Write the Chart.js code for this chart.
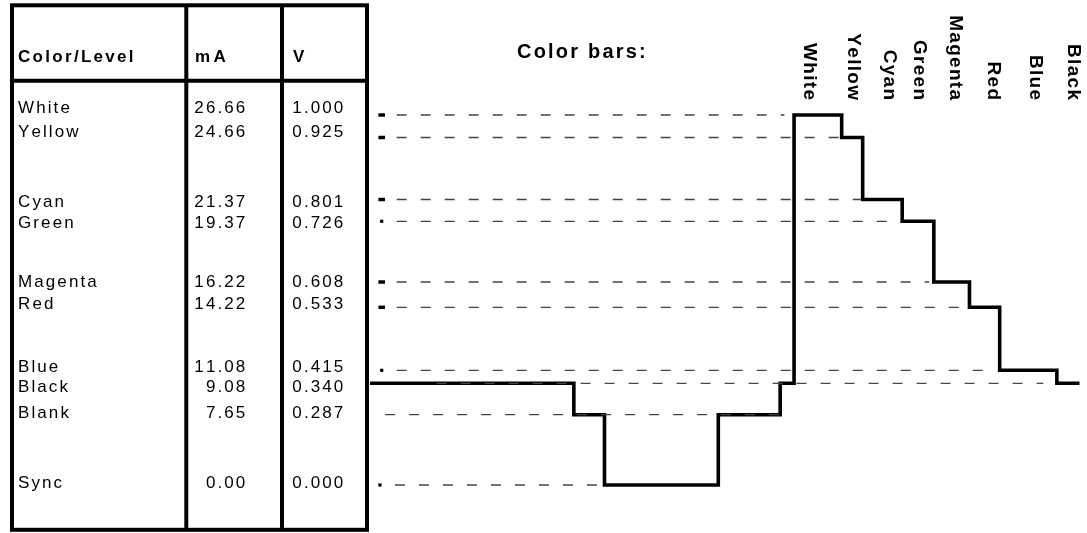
<!DOCTYPE html>
<html><head><meta charset="utf-8">
<script src="https://cdn.jsdelivr.net/npm/chart.js@4/dist/chart.umd.min.js"></script>
<style>html,body{margin:0;padding:0;background:#fff;overflow:hidden}#wrap{position:absolute;left:0;top:0;width:1087px;height:533px}</style>
</head><body><div id="wrap"><canvas id="c" width="1087" height="533"></canvas></div>
<script>
// ---- data ----
const levelNames = ['White','Yellow','Cyan','Green','Magenta','Red','Blue','Black','Blank','Sync'];
const levelMilliamps = ['26.66','24.66','21.37','19.37','16.22','14.22','11.08','9.08','7.65','0.00'];
const levelVolts = ['1.000','0.925','0.801','0.726','0.608','0.533','0.415','0.340','0.287','0.000'];
const barNames = ['White','Yellow','Cyan','Green','Magenta','Red','Blue','Black'];
// waveform: segment start time (% of the drawn line) and the level of each segment
const waveStart = [0, 28.73, 33.05, 49.09, 57.81, 59.77, 66.48, 69.44, 75.01, 79.47, 84.49, 88.75, 96.81, 100];
const waveLevel = ['Black','Blank','Sync','Blank','Black','White','Yellow','Cyan','Green','Magenta','Red','Blue','Black','Black'];
// guide (reference) lines for each level: start and end time
const guideStart = [1.65, 1.65, 1.65, 1.65, 1.65, 1.65, 1.65, 9.38, 2.11, 1.4];
const guideEnd = [58.4, 66.4, 69.2, 74.3, 78.8, 83.7, 87.9, 94.9, 57.7, 32.4];
// tick positions of the rotated colour-bar labels
const barLabelX = [61.96, 68.14, 73.14, 77.36, 82.42, 87.83, 93.74, 99.16];

// ---- layout (schematic, non-linear level spacing of the drawing) ----
const levelDisplay = [1, 0.9392, 0.7716, 0.7127, 0.5486, 0.4803, 0.31, 0.2748, 0.19, 0];
const guideMark = [3.3, 3.3, 3.3, 1.6, 3.3, 3.3, 1.6, 0, 0, 1.6];
const rowBaseline = [113.3, 136.7, 206.7, 228.3, 286.7, 309.3, 372.3, 391.7, 418.3, 488.3];

const volt = name => parseFloat(levelVolts[levelNames.indexOf(name)]);
const anchors = levelNames.map((n, i) => [parseFloat(levelVolts[i]), levelDisplay[i]]).sort((a, b) => a[0] - b[0]);

class SchematicScale extends Chart.LinearScale {
  static id = 'schematic';
  static defaults = Chart.LinearScale.defaults;
  _frac(v) {
    const a = anchors;
    if (v <= a[0][0]) return a[0][1];
    for (let i = 1; i < a.length; i++) {
      if (v <= a[i][0]) {
        const t = (v - a[i-1][0]) / (a[i][0] - a[i-1][0]);
        return a[i-1][1] + t * (a[i][1] - a[i-1][1]);
      }
    }
    return a[a.length-1][1];
  }
  getPixelForValue(v) { return this.bottom - this._frac(v) * (this.bottom - this.top); }
  getValueForPixel(p) {
    const f = (this.bottom - p) / (this.bottom - this.top);
    const a = anchors;
    for (let i = 1; i < a.length; i++) {
      if (f <= a[i][1]) { const t = (f - a[i-1][1]) / (a[i][1] - a[i-1][1] || 1); return a[i-1][0] + t * (a[i][0] - a[i-1][0]); }
    }
    return a[a.length-1][0];
  }
}
Chart.register(SchematicScale);

const FONT = '"Liberation Sans", Arial, Helvetica, sans-serif';
function spacedWidth(ctx, text, sp) {
  let w = 0; for (const ch of text) w += ctx.measureText(ch).width + sp; return w - sp;
}
function drawSpaced(ctx, text, x, y, sp, align) {
  const w = spacedWidth(ctx, text, sp);
  let cx = align === 'right' ? x - w : (align === 'center' ? x - w / 2 : x);
  ctx.textAlign = 'left';
  for (const ch of text) { ctx.fillText(ch, cx, y); cx += ctx.measureText(ch).width + sp; }
}

const tablePlugin = {
  id: 'levelTable',
  beforeDraw(chart) {
    const ctx = chart.ctx;
    ctx.save();
    ctx.fillStyle = '#fff'; ctx.fillRect(0, 0, chart.width, chart.height);
    ctx.strokeStyle = '#000'; ctx.lineWidth = 4;
    ctx.strokeRect(12, 5.3, 355, 524.5);
    ctx.beginPath();
    ctx.moveTo(12, 80.7); ctx.lineTo(367, 80.7);
    ctx.moveTo(186.3, 5.3); ctx.lineTo(186.3, 529.8);
    ctx.moveTo(282, 5.3); ctx.lineTo(282, 529.8);
    ctx.stroke();
    ctx.fillStyle = '#000'; ctx.textBaseline = 'alphabetic';
    ctx.font = 'bold 17px ' + FONT;
    drawSpaced(ctx, 'Color/Level', 18, 62, 2.3, 'left');
    drawSpaced(ctx, 'mA', 195, 62, 3.5, 'left');
    drawSpaced(ctx, 'V', 293, 62, 2.5, 'left');
    ctx.font = '17px ' + FONT;
    levelNames.forEach((n, i) => {
      const y = rowBaseline[i];
      drawSpaced(ctx, n, 18, y, 2.1, 'left');
      drawSpaced(ctx, levelMilliamps[i], 245.3, y, 2.1, 'right');
      drawSpaced(ctx, levelVolts[i], 343.3, y, 2.1, 'right');
    });
    ctx.restore();
  },
  afterDraw(chart) {
    const ctx = chart.ctx, xs = chart.scales.x;
    ctx.save();
    ctx.fillStyle = '#000';
    ctx.font = 'bold 20px ' + FONT; ctx.textBaseline = 'alphabetic';
    drawSpaced(ctx, 'Color bars:', 517, 58.3, 2.2, 'left');
    ctx.font = 'bold 19px ' + FONT; ctx.textBaseline = 'middle';
    barNames.forEach((n, i) => {
      ctx.save();
      ctx.translate(xs.getPixelForValue(barLabelX[i]), 100);
      ctx.rotate(Math.PI / 2);
      drawSpaced(ctx, n, 0, 0, 1.3, 'right');
      ctx.restore();
    });
    ctx.restore();
  }
};

const waveData = waveStart.map((x, i) => ({ x, y: volt(waveLevel[i]) }));
const guideSets = levelNames.map((n, i) => ({
  label: n + ' level',
  data: [{ x: guideStart[i], y: volt(n) }, { x: guideEnd[i], y: volt(n) }],
  borderColor: '#444', borderWidth: 1.3,
  borderDash: [10, 14], borderDashOffset: guideMark[i] > 0 ? 9 : 0,
  pointStyle: 'line', pointRadius: [guideMark[i], 0], pointBorderWidth: guideMark[i] > 2 ? 3.5 : 3.2,
  pointBorderColor: '#000', pointBackgroundColor: '#000',
  fill: false, order: 0, clip: false
}));

new Chart(document.getElementById('c'), {
  type: 'line',
  data: {
    datasets: [
      { label: 'Signal', data: waveData, stepped: true, borderColor: '#000', borderWidth: 3.6,
        pointRadius: 0, fill: false, order: 1, clip: false, borderCapStyle: 'butt', borderJoinStyle: 'miter' },
      ...guideSets
    ]
  },
  options: {
    responsive: false, animation: false, events: [],
    layout: { padding: { left: 370, right: 6, top: 115, bottom: 48 } },
    scales: {
      x: { type: 'linear', min: 0, max: 100, display: false },
      y: { type: 'schematic', min: 0, max: 1, display: false }
    },
    plugins: { legend: { display: false }, tooltip: { enabled: false }, title: { display: false } }
  },
  plugins: [tablePlugin]
});
</script>
</body></html>
